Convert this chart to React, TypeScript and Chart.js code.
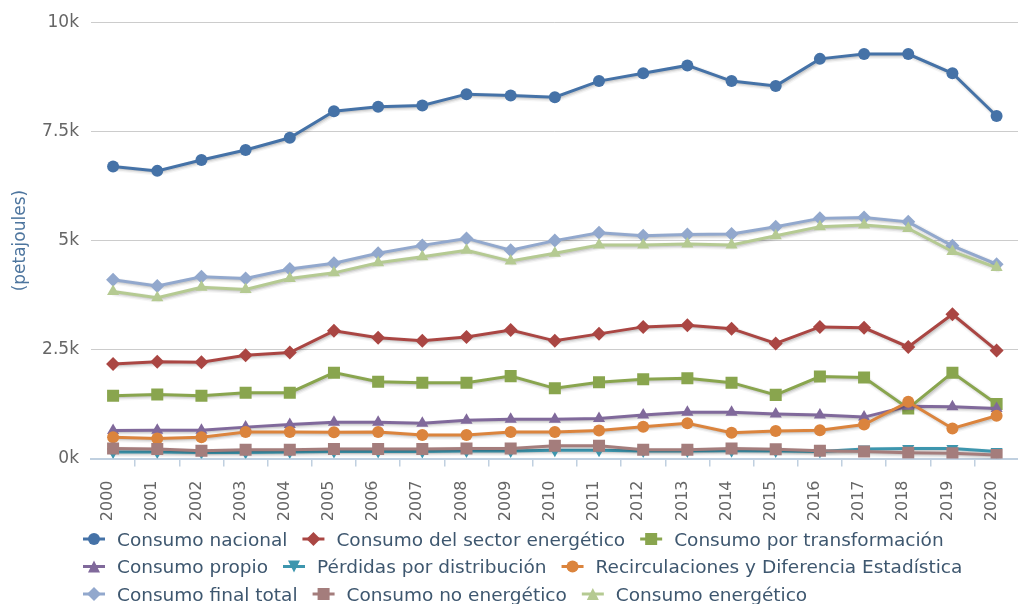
import React, { useEffect, useRef } from 'react';
import { Chart, registerables } from 'chart.js';

Chart.register(...registerables);

const years = ['2000', '2001', '2002', '2003', '2004', '2005', '2006', '2007', '2008', '2009', '2010',
  '2011', '2012', '2013', '2014', '2015', '2016', '2017', '2018', '2019', '2020'];

const consumoNacional = [6700, 6600, 6850, 7080, 7360, 7970, 8070, 8100, 8360, 8330, 8290, 8660, 8840, 9020, 8660, 8550, 9170, 9280, 9280, 8840, 7860];
const consumoSectorEnergetico = [2170, 2220, 2210, 2370, 2430, 2930, 2770, 2700, 2790, 2950, 2700, 2860, 3020, 3060, 2980, 2640, 3020, 3000, 2560, 3310, 2480];
const consumoTransformacion = [1440, 1470, 1440, 1510, 1510, 1970, 1760, 1740, 1740, 1890, 1610, 1750, 1820, 1840, 1740, 1460, 1880, 1860, 1150, 1970, 1250];
const consumoPropio = [640, 650, 650, 720, 780, 830, 830, 810, 880, 900, 900, 920, 1000, 1060, 1060, 1020, 1000, 950, 1200, 1190, 1150];
const perdidasDistribucion = [150, 150, 140, 140, 150, 160, 160, 160, 170, 170, 190, 190, 170, 170, 180, 170, 160, 220, 230, 230, 160];
const recirculaciones = [490, 460, 490, 610, 610, 600, 610, 540, 540, 610, 610, 640, 730, 810, 590, 630, 650, 780, 1300, 690, 980];
const consumoFinalTotal = [4100, 3960, 4170, 4130, 4350, 4480, 4710, 4890, 5050, 4780, 5000, 5180, 5110, 5140, 5150, 5320, 5510, 5530, 5430, 4880, 4460];
const consumoNoEnergetico = [230, 220, 180, 200, 200, 220, 220, 220, 230, 230, 290, 290, 200, 200, 230, 210, 180, 160, 130, 120, 80];
const consumoEnergetico = [3830, 3690, 3930, 3880, 4130, 4260, 4490, 4630, 4780, 4530, 4710, 4900, 4900, 4920, 4900, 5110, 5320, 5360, 5280, 4750, 4380];

const yTickLabels = ['0k', '2.5k', '5k', '7.5k', '10k'];
const yTitle = '(petajoules)';

type Series = { label: string; data: number[]; color: string; marker: string };

const series: Series[] = [
  { label: 'Consumo nacional', data: consumoNacional, color: '#4572A7', marker: 'circle' },
  { label: 'Consumo del sector energético', data: consumoSectorEnergetico, color: '#AA4643', marker: 'diamond' },
  { label: 'Consumo por transformación', data: consumoTransformacion, color: '#89A54E', marker: 'square' },
  { label: 'Consumo propio', data: consumoPropio, color: '#80699B', marker: 'triangle' },
  { label: 'Pérdidas por distribución', data: perdidasDistribucion, color: '#3D96AE', marker: 'triangleDown' },
  { label: 'Recirculaciones y Diferencia Estadística', data: recirculaciones, color: '#DB843D', marker: 'circle' },
  { label: 'Consumo final total', data: consumoFinalTotal, color: '#92A8CD', marker: 'diamond' },
  { label: 'Consumo no energético', data: consumoNoEnergetico, color: '#A47D7C', marker: 'square' },
  { label: 'Consumo energético', data: consumoEnergetico, color: '#B5CA92', marker: 'triangle' },
];

const FONT = '"DejaVu Sans", sans-serif';

function pointOpts(marker: string) {
  switch (marker) {
    case 'circle': return { pointStyle: 'circle', radius: 6, rotation: 0 };
    case 'square': return { pointStyle: 'rect', radius: 8.5, rotation: 0 };
    case 'diamond': return { pointStyle: 'rectRot', radius: 7, rotation: 0 };
    case 'triangle': return { pointStyle: 'triangle', radius: 7, rotation: 0 };
    case 'triangleDown': return { pointStyle: 'triangle', radius: 7, rotation: 180 };
    default: return { pointStyle: 'circle', radius: 6, rotation: 0 };
  }
}

function drawMarker(ctx: CanvasRenderingContext2D, marker: string, x: number, y: number, color: string) {
  ctx.fillStyle = color;
  ctx.beginPath();
  if (marker === 'circle') {
    ctx.arc(x, y, 6, 0, Math.PI * 2);
  } else if (marker === 'square') {
    ctx.rect(x - 6, y - 6, 12, 12);
  } else if (marker === 'diamond') {
    ctx.moveTo(x, y - 7); ctx.lineTo(x + 7, y); ctx.lineTo(x, y + 7); ctx.lineTo(x - 7, y); ctx.closePath();
  } else if (marker === 'triangle') {
    ctx.moveTo(x, y - 6); ctx.lineTo(x + 6, y + 6); ctx.lineTo(x - 6, y + 6); ctx.closePath();
  } else if (marker === 'triangleDown') {
    ctx.moveTo(x, y + 6); ctx.lineTo(x + 6, y - 6); ctx.lineTo(x - 6, y - 6); ctx.closePath();
  }
  ctx.fill();
}

const shadowPlugin = {
  id: 'lineShadow',
  beforeDatasetDraw(chart: any, args: any) {
    const pts = args.meta.data;
    const ctx: CanvasRenderingContext2D = chart.ctx;
    ctx.save();
    ctx.beginPath();
    pts.forEach((p: any, i: number) => {
      if (i === 0) ctx.moveTo(p.x + 1.5, p.y + 1.5);
      else ctx.lineTo(p.x + 1.5, p.y + 1.5);
    });
    ctx.lineJoin = 'round';
    ctx.lineCap = 'round';
    const layers: [number, number][] = [[7, 0.04], [4.5, 0.07], [2, 0.1]];
    layers.forEach(([w, a]) => {
      ctx.lineWidth = w;
      ctx.strokeStyle = `rgba(0,0,0,${a})`;
      ctx.stroke();
    });
    ctx.restore();
  },
};

const legendPlugin = {
  id: 'hcLegend',
  afterDraw(chart: any) {
    const ctx: CanvasRenderingContext2D = chart.ctx;
    ctx.save();
    ctx.font = `18.5px ${FONT}`;
    ctx.textBaseline = 'alphabetic';
    ctx.textAlign = 'left';
    const startX = 83;
    const maxRight = 1014;
    const firstRowY = 539;
    const rowH = 27.5;
    let x = startX;
    let row = 0;
    series.forEach((s) => {
      const tw = ctx.measureText(s.label).width;
      const w = 34 + tw;
      if (x + w > maxRight && x > startX) {
        row += 1;
        x = startX;
      }
      const y = firstRowY + row * rowH;
      ctx.strokeStyle = s.color;
      ctx.lineWidth = 3;
      ctx.beginPath();
      ctx.moveTo(x, y);
      ctx.lineTo(x + 22, y);
      ctx.stroke();
      drawMarker(ctx, s.marker, x + 11, y, s.color);
      ctx.fillStyle = '#3E576F';
      ctx.fillText(s.label, x + 34, y + 6.5);
      x += w + 15;
    });
    ctx.restore();
  },
};

export default function App() {
  const ref = useRef<HTMLCanvasElement>(null);

  useEffect(() => {
    if (!ref.current) return;
    Chart.defaults.font.family = FONT;
    const datasets = series.map((s, i) => {
      const p = pointOpts(s.marker);
      return {
        label: s.label,
        data: s.data,
        borderColor: s.color,
        backgroundColor: s.color,
        borderWidth: 3,
        pointStyle: p.pointStyle,
        pointRadius: p.radius,
        pointRotation: p.rotation,
        pointBorderWidth: 0,
        pointBackgroundColor: s.color,
        pointHoverRadius: p.radius,
        tension: 0,
        order: -i,
      };
    });
    const chart = new Chart(ref.current, {
      type: 'line',
      data: { labels: years, datasets: datasets as any },
      options: {
        animation: false,
        responsive: false,
        devicePixelRatio: 1,
        layout: { padding: { left: 0, right: 1.5, top: 22.7, bottom: 75.5 } },
        plugins: {
          legend: { display: false },
          tooltip: { enabled: false },
        },
        scales: {
          x: {
            type: 'category',
            offset: true,
            afterFit: (scale: any) => { scale.height = 70; },
            border: { display: true, color: '#C0D0E0', width: 2 },
            grid: {
              offset: true,
              drawOnChartArea: false,
              drawTicks: true,
              tickLength: 8,
              lineWidth: 1.5,
              color: (c: any) => (c.index === 0 ? 'rgba(0,0,0,0)' : '#C0D0E0'),
            },
            ticks: {
              autoSkip: false,
              minRotation: 90,
              maxRotation: 90,
              padding: 14,
              labelOffset: -5,
              color: '#666666',
              font: { size: 16, family: FONT },
            },
          },
          y: {
            min: 0,
            max: 10000,
            afterFit: (scale: any) => { scale.width = 91; },
            border: { display: false },
            grid: {
              drawTicks: false,
              lineWidth: 1,
              color: (c: any) => (c.tick && c.tick.value === 0 ? 'rgba(0,0,0,0)' : '#CCCCCC'),
            },
            ticks: {
              stepSize: 2500,
              padding: 12,
              color: '#666666',
              font: { size: 17, family: FONT },
              callback: (v: any) => yTickLabels[Math.round(Number(v) / 2500)],
            },
            title: {
              display: true,
              text: yTitle,
              color: '#4D759E',
              font: { size: 17, family: FONT },
              padding: { top: 10, bottom: 0 },
            },
          },
        },
      },
      plugins: [shadowPlugin, legendPlugin],
    });
    return () => chart.destroy();
  }, []);

  return (
    <div style={{ position: 'absolute', left: 0, top: 0, width: 1018, height: 604, overflow: 'hidden', background: '#ffffff' }}>
      <canvas ref={ref} width={1030} height={604} style={{ display: 'block', width: 1030, height: 604 }} />
    </div>
  );
}
